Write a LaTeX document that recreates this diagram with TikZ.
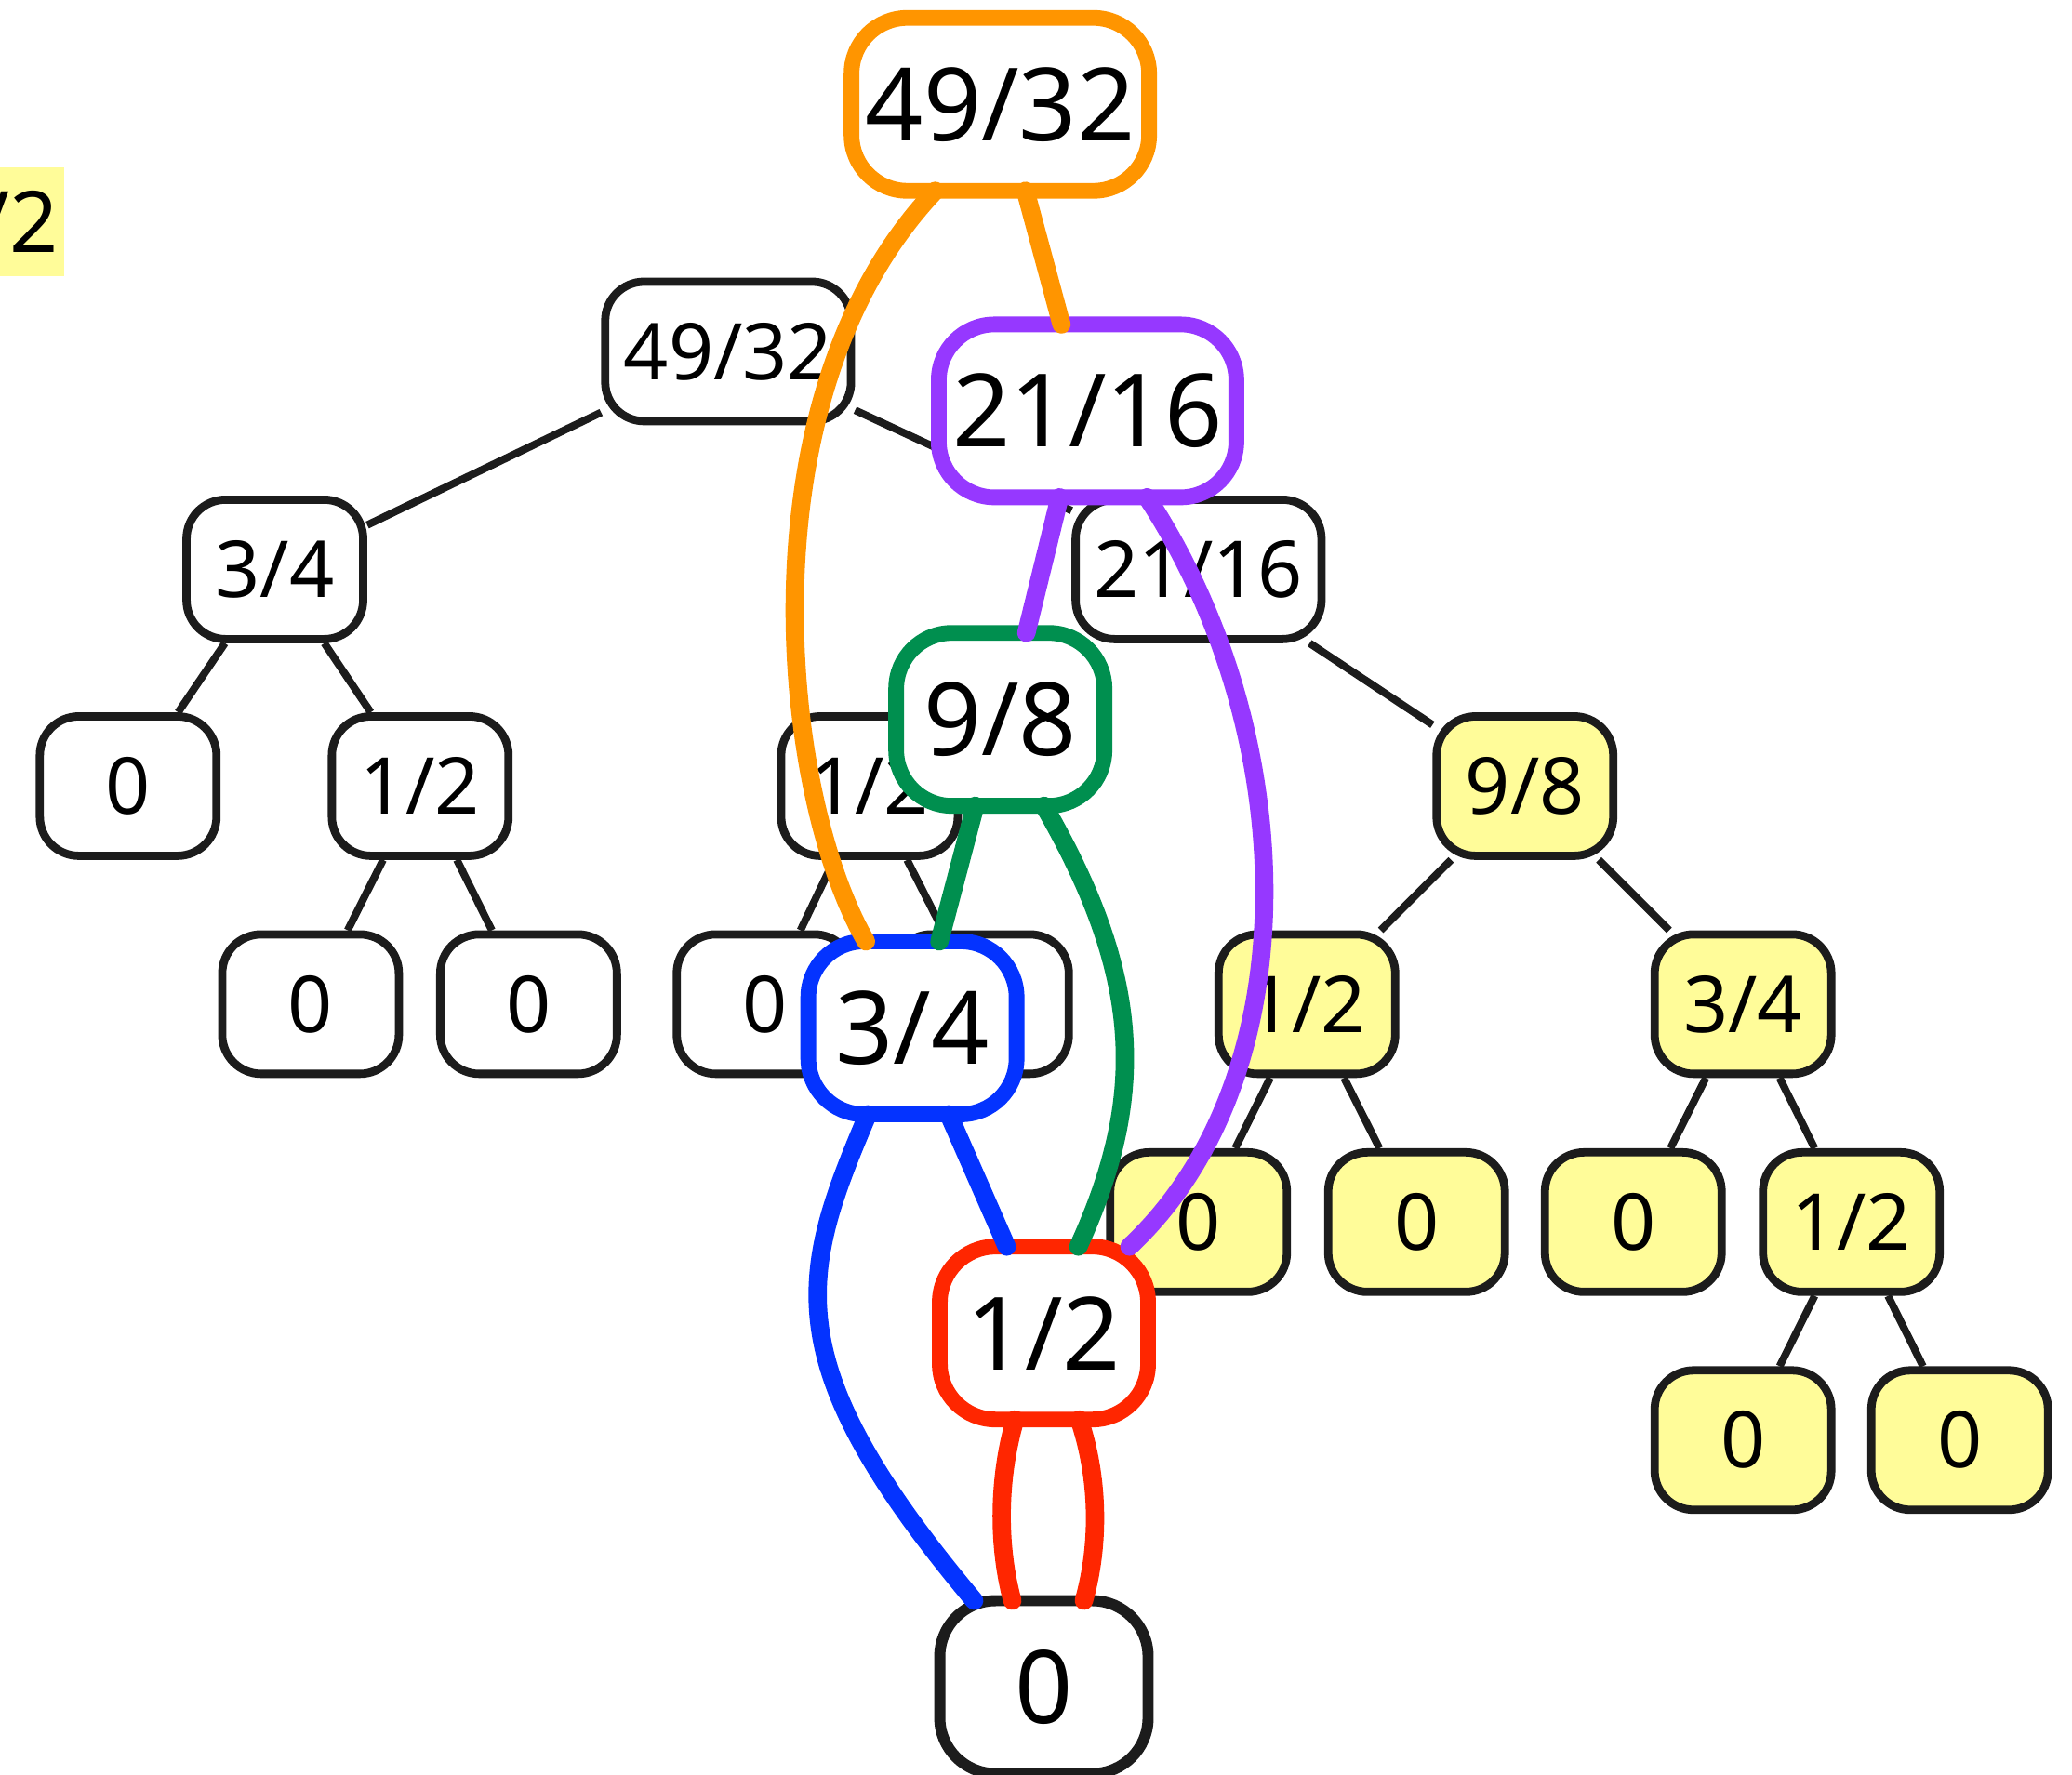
\documentclass[tikz,border=0pt]{standalone}
\usepackage{fontspec}
\setmainfont{Noto Sans}
\usepackage{xcolor}
\definecolor{ink}{HTML}{1C1C1C}
\definecolor{hiyel}{HTML}{FFFC99}
\definecolor{cOrange}{HTML}{FF9500}
\definecolor{cPurple}{HTML}{9638FF}
\definecolor{cGreen}{HTML}{008F4F}
\definecolor{cBlue}{HTML}{0433FF}
\definecolor{cRed}{HTML}{FF2600}
\tikzset{
  leaf/.style={draw=ink, line width=2.5pt, fill=white, rounded corners=0.42cm,
               minimum width=1.9cm, minimum height=1.5cm, inner xsep=0.2cm,
               font=\fontsize{24}{28}\selectfont},
  wide/.style={minimum width=2.64cm},
  hot/.style={fill=hiyel},
  big/.style={draw=#1, line width=4.8pt, fill=white, rounded corners=0.6cm,
              outer sep=0pt, minimum width=2.24cm, minimum height=1.86cm,
              inner xsep=0.25cm, font=\fontsize{31}{36}\selectfont},
  bigwide/.style={minimum width=3.2cm, inner xsep=0.1cm},
  twig/.style={draw=ink, line width=2.3pt},
  walk/.style={draw=#1, line width=5.6pt, line cap=round}
}

\begin{document}
\begin{tikzpicture}[x=0.1421mm, y=-0.1421mm]
  \useasboundingbox (0,0) rectangle (1568,1343);
  \clip (0,0) rectangle (1568,1343);

  % cut-off label at the left border
  \node[fill=hiyel, anchor=east, inner xsep=0.06cm, minimum height=1.165cm,
        font=\fontsize{26}{30}\selectfont] (cut) at (49,168) {1/2};

  % the tree
  \node[leaf, wide] (n) at (551,266) {49/32};
  \node[leaf] (nL) at (208,431) {3/4};
  \node[leaf, wide] (nR) at (907,431) {21/16};
  \node[leaf] (nLL) at (97,595) {0};
  \node[leaf] (nLR) at (318,595) {1/2};
  \node[leaf] (nLRL) at (235,760) {0};
  \node[leaf] (nLRR) at (400,760) {0};
  \node[leaf] (nRL) at (658,595) {1/2};
  \node[leaf] (nRLL) at (579,760) {0};
  \node[leaf] (nRLR) at (742,760) {};
  \node[leaf, hot] (nRR) at (1154,595) {9/8};
  \node[leaf, hot] (nRRL) at (989,760) {1/2};
  \node[leaf, hot] (nRRR) at (1319,760) {3/4};
  \node[leaf, hot] (nRRLL) at (907,925) {0};
  \node[leaf, hot] (nRRLR) at (1072,925) {0};
  \node[leaf, hot] (nRRRL) at (1236,925) {0};
  \node[leaf, hot] (nRRRR) at (1401,925) {1/2};
  \node[leaf, hot] (nRRRRL) at (1319,1090) {0};
  \node[leaf, hot] (nRRRRR) at (1483,1090) {0};
  \foreach \a/\b in {n/nL, n/nR, nL/nLL, nL/nLR, nLR/nLRL, nLR/nLRR,
                     nR/nRL, nR/nRR, nRL/nRLL, nRL/nRLR, nRR/nRRL, nRR/nRRR,
                     nRRL/nRRLL, nRRL/nRRLR, nRRR/nRRRL, nRRR/nRRRR,
                     nRRRR/nRRRRL, nRRRR/nRRRRR}
    \draw[twig] (\a) -- (\b);

  % the shared values
  \node[big=cOrange, bigwide] (v4932) at (757,79) {49/32};
  \node[big=cPurple, bigwide] (v2116) at (823,311) {21/16};
  \node[big=cGreen] (v98) at (757,544.5) {9/8};
  \node[big=cBlue] (v34) at (690.5,778) {3/4};
  \node[big=cRed] (v12) at (790,1009) {1/2};
  \node[big=ink, line width=3.4pt] (v0) at (790,1277) {0};

  \draw[walk=cOrange] ([xshift=-0.70cm]v4932.south)
    .. controls (560,300) and (590,600) .. ([xshift=-0.50cm]v34.north);
  \draw[walk=cOrange] ([xshift=0.27cm]v4932.south) -- ([xshift=-0.28cm]v2116.north);
  \draw[walk=cPurple] ([xshift=-0.30cm]v2116.south) -- ([xshift=0.28cm]v98.north);
  \draw[walk=cPurple] ([xshift=0.64cm]v2116.south)
    .. controls (985,555) and (992,815) .. ([xshift=0.92cm]v12.north);
  \draw[walk=cGreen] ([xshift=-0.27cm]v98.south) -- ([xshift=0.29cm]v34.north);
  \draw[walk=cGreen] ([xshift=0.47cm]v98.south)
    .. controls (865,740) and (868,830) .. ([xshift=0.37cm]v12.north);
  \draw[walk=cBlue] ([xshift=-0.48cm]v34.south)
    .. controls (605,965) and (585,1030) .. ([xshift=-0.75cm]v0.north);
  \draw[walk=cBlue] ([xshift=0.39cm]v34.south) -- ([xshift=-0.40cm]v12.north);
  \draw[walk=cRed] ([xshift=-0.31cm]v12.south)
    .. controls (755,1120) and (755,1170) .. ([xshift=-0.34cm]v0.north);
  \draw[walk=cRed] ([xshift=0.38cm]v12.south)
    .. controls (832,1120) and (832,1170) .. ([xshift=0.43cm]v0.north);
\end{tikzpicture}
\end{document}
